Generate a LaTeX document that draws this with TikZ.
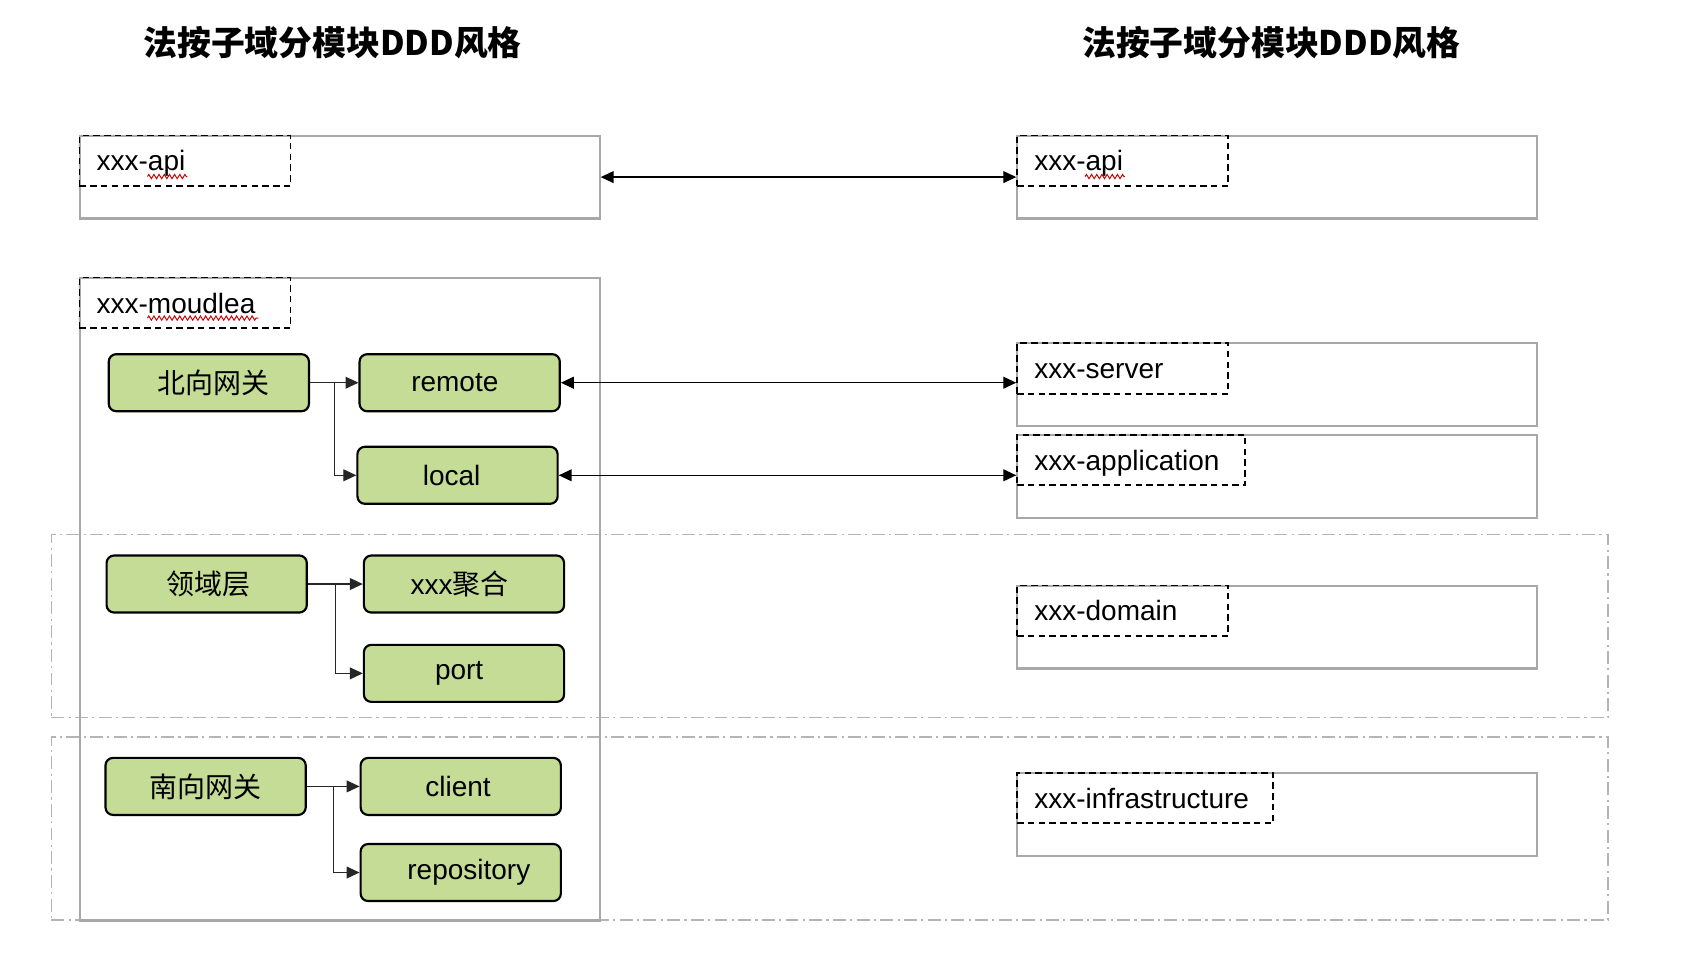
\documentclass[tikz,border=0pt]{standalone}
\usepackage{fontspec}
\setmainfont{Liberation Sans}
\newfontfamily\cjk{Noto Sans CJK SC}
\usetikzlibrary{arrows.meta,calc,decorations.pathmorphing}
\definecolor{boxgray}{HTML}{A8A8A8}
\definecolor{fillgreen}{RGB}{196,220,150}
\definecolor{regiongray}{HTML}{B4B4B4}
\begin{document}
\begin{tikzpicture}[x=0.5pt,y=-0.5pt,
  every node/.style={font=\fontsize{13}{15}\selectfont},
  outerbox/.style={draw=boxgray,line width=1pt,minimum width=241.5pt,minimum height=38.5pt,anchor=north west,inner sep=0pt},
  labelbox/.style={draw=black,line width=0.8pt,dash pattern=on 3pt off 2pt,minimum height=23.5pt,anchor=north west,inner xsep=8pt,inner ysep=0pt,align=left,text width=#1,text height=11pt,text depth=1.5pt},
  greenbox/.style={draw=black,line width=1pt,fill=fillgreen,rounded corners=3.5pt,minimum width=93pt,minimum height=26.5pt,anchor=north west,inner sep=0pt},
  region/.style={draw=regiongray,line width=0.7pt,dash pattern=on 6pt off 2pt on 1pt off 2pt},
  conn/.style={draw=black!85,line width=0.5pt,-{Triangle[length=6pt,width=5.5pt]}},
  biarrow/.style={draw=black,line width=0.6pt,{Triangle[length=6pt,width=5.5pt]}-{Triangle[length=6pt,width=5.5pt]}},
  squiggle/.style={draw=red!80!black,line width=0.45pt,decorate,decoration={zigzag,segment length=2.4pt,amplitude=1pt}},
  title/.style={font=\cjk\bfseries\fontsize{15.7}{19}\selectfont}
]
\useasboundingbox (0,0) rectangle (1568,894);

% titles
\node[title] (t1) at (309,40) {法按子域分模块DDD风格};
\node[title] (t2) at (1181,40) {法按子域分模块DDD风格};

% layer regions (dash-dot)
\node[region,minimum width=723pt,minimum height=85pt,anchor=north west,inner sep=0pt] (reg1) at (47,496) {};
\node[region,minimum width=723pt,minimum height=85pt,anchor=north west,inner sep=0pt] (reg2) at (47,684) {};

% left side
\node[outerbox] (apiL) at (73,125) {};
\node[labelbox=82pt] (apiLlab) at (73,125) {xxx-api};
\node[outerbox,minimum height=298.5pt] (modL) at (73,257) {};
\node[labelbox=82pt] (modLlab) at (73,257) {xxx-moudlea};

\node[greenbox] (nb) at (100,328) {\hspace*{4pt}{\cjk 北向网关}};
\node[greenbox] (remote) at (333,328) {remote\hspace*{4.5pt}};
\node[greenbox] (local) at (331,414) {\raisebox{-1.75pt}{local}\hspace*{5.5pt}};
\node[greenbox] (dom) at (98,515) {\hspace*{2pt}{\cjk 领域层}};
\node[greenbox] (agg) at (337,515) {xxx{\cjk 聚合}\hspace*{4pt}};
\node[greenbox] (port) at (337,598) {port\hspace*{4.5pt}};
\node[greenbox] (sb) at (97,703) {{\cjk 南向网关}};
\node[greenbox] (client) at (334,703) {client\hspace*{2.5pt}};
\node[greenbox] (repo) at (334,783) {\hspace*{7.5pt}repository};

% right side
\node[outerbox] (apiR) at (944,125) {};
\node[labelbox=82pt] (apiRlab) at (944,125) {xxx-api};
\node[outerbox] (srv) at (944,318) {};
\node[labelbox=82pt] (srvlab) at (944,318) {xxx-server};
\node[outerbox] (app) at (944,403) {};
\node[labelbox=90pt] (applab) at (944,403) {xxx-application};
\node[outerbox] (domR) at (944,543) {};
\node[labelbox=82pt] (domRlab) at (944,543) {xxx-domain};
\node[outerbox] (infra) at (944,717) {};
\node[labelbox=103pt] (infralab) at (944,717) {xxx-infrastructure};

% spell-check squiggles
\draw[squiggle] (137,164) -- (174,164);
\draw[squiggle] (137,295.5) -- (240,295.5);
\draw[squiggle] (1008,164) -- (1045,164);

% inner connectors
\coordinate (j1) at ($(nb.east)!0.5!(remote.west)$);
\draw[conn] (nb.east) -- (remote.west);
\draw[conn] (j1) |- (local.west);
\coordinate (j2) at ($(dom.east)!0.5!(agg.west)$);
\draw[conn] (dom.east) -- (agg.west);
\draw[conn] (j2) |- (port.west);
\coordinate (j3) at ($(sb.east)!0.5!(client.west)$);
\draw[conn] (sb.east) -- (client.west);
\draw[conn] (j3) |- (repo.west);

% cross arrows
\draw[biarrow] (apiL.east) -- (apiL.east -| apiR.west);
\draw[biarrow] (remote.east) -- (remote.east -| srv.west);
\draw[biarrow] (local.east) -- (local.east -| app.west);
\end{tikzpicture}
\end{document}
